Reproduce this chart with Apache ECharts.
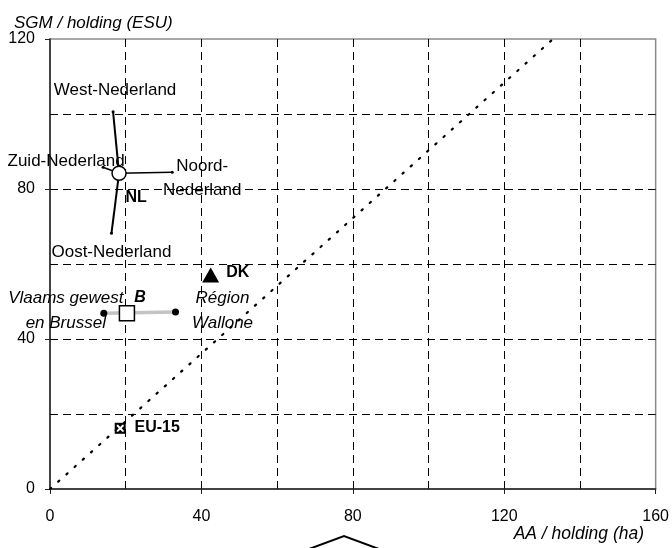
<!DOCTYPE html>
<html>
<head>
<meta charset="utf-8">
<script src="https://cdn.jsdelivr.net/npm/echarts@6/dist/echarts.min.js"></script>
<style>
html,body{margin:0;padding:0;background:#fff;}
#chart{width:672px;height:548px;}
</style>
</head>
<body>
<div id="chart"></div>
<script>
// ---- data ----
const xTicks = [0, 40, 80, 120, 160];
const yTicks = [0, 40, 80, 120];
const xTitle = 'AA / holding (ha)';
const yTitle = 'SGM / holding (ESU)';
const diagonal = [[0, 0], [134, 121]];
const nlName = 'NL';
const nlCenter = [18.24, 84.19];
const nlRegions = ['West-Nederland', 'Zuid-Nederland', 'Noord-\nNederland', 'Oost-Nederland'];
const nlRegionValues = [[16.66, 100.6], [14.03, 85.79], [32.29, 84.45], [16.24, 68.19]];
const bName = 'B';
const bCenter = [20.32, 46.85];
const bRegions = ['Vlaams gewest\nen Brussel', 'Région\nWallone'];
const bRegionValues = [[14.21, 46.85], [33.16, 47.2]];
const dkName = 'DK';
const dkValue = [42.45, 57.07];
const euName = 'EU-15';
const euValue = [18.55, 16.19];

// ---- styling helpers ----
const FONT = "'Liberation Sans', Arial, sans-serif";
const nlLabelOffsets = [[2, -21], [-37, -6], [30, 6], [0, 19]];
const nlSpokeWidths = [2, 1.6, 1.4, 2];
const bLabelOffsets = [[-38, -3], [47, -1]];

const series = [];

// diagonal dotted line
series.push({
  type: 'line', data: diagonal, symbol: 'none', clip: false, silent: true, z: 2,
  lineStyle: { color: '#000', width: 2.2, type: [1.5, 9.5], cap: 'round', opacity: 1 }
});

// NL spokes
nlRegionValues.forEach((v, i) => {
  series.push({
    type: 'line', data: [nlCenter, v], symbol: 'none', z: 3,
    lineStyle: { color: '#000', width: nlSpokeWidths[i], opacity: 1 }
  });
});
// NL spoke end labels
series.push({
  type: 'scatter', z: 4, symbol: 'circle', symbolSize: 3,
  itemStyle: { color: '#000', opacity: 1 },
  data: nlRegions.map((n, i) => ({
    value: nlRegionValues[i], name: n,
    label: { offset: nlLabelOffsets[i] }
  })),
  label: {
    show: true, position: 'inside', formatter: p => p.name,
    color: '#000', fontFamily: FONT, fontSize: 17, lineHeight: 24, align: 'center', verticalAlign: 'middle'
  }
});
// NL circle
series.push({
  type: 'scatter', z: 6, symbol: 'circle', symbolSize: 14,
  itemStyle: { color: '#fff', borderColor: '#000', borderWidth: 1.5, opacity: 1 },
  data: [{ value: nlCenter, name: nlName }],
  label: {
    show: true, position: 'inside', offset: [17, 24], formatter: p => p.name,
    color: '#000', fontFamily: FONT, fontSize: 16, fontWeight: 'bold'
  }
});

// B spoke
series.push({
  type: 'line', data: bRegionValues, symbol: 'circle', symbolSize: 7, z: 3,
  itemStyle: { color: '#000', opacity: 1 },
  lineStyle: { color: '#c4c4c4', width: 3.5, opacity: 1 },
  label: { show: false }
});
series.push({
  type: 'scatter', z: 4, symbolSize: 0,
  itemStyle: { opacity: 1 },
  data: bRegions.map((n, i) => ({ value: bRegionValues[i], name: n, label: { offset: bLabelOffsets[i] } })),
  label: {
    show: true, position: 'inside', formatter: p => p.name,
    color: '#000', fontFamily: FONT, fontSize: 17, fontStyle: 'italic', lineHeight: 25, align: 'center', verticalAlign: 'middle'
  }
});
series.push({
  type: 'scatter', z: 6, symbol: 'rect', symbolSize: 15,
  itemStyle: { color: '#fff', borderColor: '#000', borderWidth: 1.5, opacity: 1 },
  data: [{ value: bCenter, name: bName }],
  label: {
    show: true, position: 'inside', offset: [13, -16], formatter: p => p.name,
    color: '#000', fontFamily: FONT, fontSize: 16, fontWeight: 'bold', fontStyle: 'italic'
  }
});

// DK
series.push({
  type: 'scatter', z: 6, symbol: 'triangle', symbolSize: [17, 15],
  itemStyle: { color: '#000', opacity: 1 },
  data: [{ value: dkValue, name: dkName }],
  label: {
    show: true, position: 'inside', offset: [27, -2], formatter: p => p.name,
    color: '#000', fontFamily: FONT, fontSize: 16, fontWeight: 'bold'
  }
});

// EU-15: black square with white cross
series.push({
  type: 'scatter', z: 6, symbol: 'rect', symbolSize: 11,
  itemStyle: { color: '#000', opacity: 1 },
  data: [{ value: euValue, name: euName }],
  label: {
    show: true, position: 'inside', offset: [37, -1], formatter: p => p.name,
    color: '#000', fontFamily: FONT, fontSize: 16, fontWeight: 'bold'
  }
});
series.push({
  type: 'scatter', z: 7, silent: true,
  symbol: 'path://M0,0L2,0L5,3L8,0L10,0L10,2L7,5L10,8L10,10L8,10L5,7L2,10L0,10L0,8L3,5L0,2Z',
  symbolSize: 7,
  itemStyle: { color: '#fff', opacity: 1 },
  data: [euValue]
});

const axisCommon = {
  type: 'value', interval: 40,
  axisLine: { show: true, onZero: false, lineStyle: { color: '#222', width: 1.5 } },
  axisTick: { show: true, length: 5, lineStyle: { color: '#222', width: 1 } },
  splitLine: { show: true, showMinLine: false, showMaxLine: false, lineStyle: { color: '#000', width: 1, type: [8, 5] } },
  minorTick: { show: false, splitNumber: 2 },
  minorSplitLine: { show: true, lineStyle: { color: '#000', width: 1, type: [8, 5] } },
  axisLabel: { color: '#000', fontFamily: FONT, fontSize: 16 }
};

const option = {
  animation: false,
  backgroundColor: '#fff',
  grid: { left: 50, right: 14, top: 39, bottom: 59, show: true, borderColor: '#8a8a8a', borderWidth: 1.5, backgroundColor: 'transparent' },
  title: [
    { text: yTitle, left: 9, top: 10, textStyle: { fontFamily: FONT, fontSize: 17, fontStyle: 'italic', fontWeight: 'normal', color: '#000' } },
    { text: xTitle, right: 23, top: 520, textStyle: { fontFamily: FONT, fontSize: 17.5, fontStyle: 'italic', fontWeight: 'normal', color: '#000' } }
  ],
  xAxis: Object.assign({}, axisCommon, {
    min: xTicks[0], max: xTicks[xTicks.length - 1],
    axisLabel: Object.assign({}, axisCommon.axisLabel, { margin: 20 })
  }),
  yAxis: Object.assign({}, axisCommon, {
    min: yTicks[0], max: yTicks[yTicks.length - 1],
    axisLabel: Object.assign({}, axisCommon.axisLabel, { margin: 15 })
  }),
  graphic: [{
    type: 'polyline', silent: true,
    shape: { points: [[309, 549], [344, 536], [379, 549]] },
    style: { stroke: '#000', lineWidth: 2, fill: null }
  }],
  series: series
};

const chart = echarts.init(document.getElementById('chart'), null, { renderer: 'canvas' });
chart.setOption(option);
</script>
</body>
</html>
